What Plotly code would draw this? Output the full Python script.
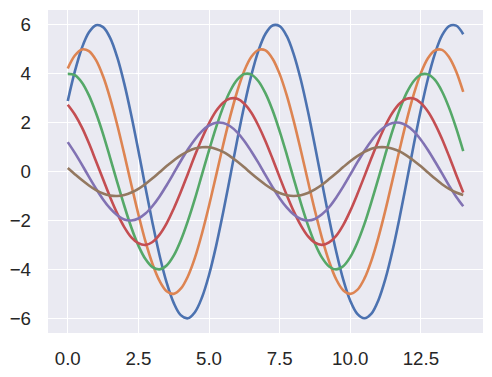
import plotly.graph_objects as go

# x positions (step 0.25 from 0 to 14)
x_values = [0.0, 0.25, 0.5, 0.75, 1.0, 1.25, 1.5, 1.75, 2.0, 2.25, 2.5, 2.75, 3.0, 3.25,
            3.5, 3.75, 4.0, 4.25, 4.5, 4.75, 5.0, 5.25, 5.5, 5.75, 6.0, 6.25, 6.5, 6.75,
            7.0, 7.25, 7.5, 7.75, 8.0, 8.25, 8.5, 8.75, 9.0, 9.25, 9.5, 9.75, 10.0, 10.25,
            10.5, 10.75, 11.0, 11.25, 11.5, 11.75, 12.0, 12.25, 12.5, 12.75, 13.0, 13.25,
            13.5, 13.75, 14.0]

series_1 = [2.88, 4.09, 5.05, 5.69, 5.98, 5.90, 5.46, 4.67, 3.59, 2.29, 0.85, -0.65, -2.10,
            -3.43, -4.54, -5.37, -5.87, -6.00, -5.75, -5.15, -4.23, -3.05, -1.68, -0.20, 1.29,
            2.70, 3.94, 4.94, 5.63, 5.97, 5.94, 5.54, 4.79, 3.75, 2.47, 1.04, -0.45, -1.92,
            -3.26, -4.41, -5.28, -5.82, -6.00, -5.81, -5.25, -4.37, -3.22, -1.87, -0.40, 1.10,
            2.52, 3.79, 4.82, 5.56, 5.94, 5.96, 5.61]
series_2 = [4.21, 4.74, 4.99, 4.92, 4.55, 3.89, 2.99, 1.91, 0.71, -0.54, -1.75, -2.86, -3.78,
            -4.47, -4.89, -5.00, -4.79, -4.29, -3.53, -2.54, -1.40, -0.17, 1.08, 2.25, 3.28,
            4.12, 4.69, 4.97, 4.95, 4.61, 3.99, 3.12, 2.06, 0.87, -0.38, -1.60, -2.72, -3.67,
            -4.40, -4.85, -5.00, -4.84, -4.38, -3.64, -2.68, -1.56, -0.33, 0.91, 2.10, 3.16,
            4.02, 4.63, 4.95, 4.97, 4.67, 4.09, 3.25]
series_3 = [3.99, 3.94, 3.64, 3.11, 2.39, 1.53, 0.56, -0.43, -1.40, -2.29, -3.03, -3.58, -3.91,
            -4.00, -3.84, -3.44, -2.82, -2.03, -1.12, -0.13, 0.86, 1.80, 2.63, 3.29, 3.75,
            3.98, 3.96, 3.69, 3.19, 2.50, 1.65, 0.70, -0.30, -1.28, -2.18, -2.94, -3.52, -3.88,
            -4.00, -3.87, -3.50, -2.91, -2.15, -1.24, -0.27, 0.73, 1.68, 2.53, 3.22, 3.70,
            3.96, 3.97, 3.74, 3.27, 2.60, 1.77, 0.83]
series_4 = [2.73, 2.33, 1.80, 1.15, 0.42, -0.32, -1.05, -1.71, -2.27, -2.69, -2.93, -3.00, -2.88,
            -2.58, -2.12, -1.52, -0.84, -0.10, 0.65, 1.35, 1.97, 2.47, 2.81, 2.98, 2.97,
            2.77, 2.40, 1.87, 1.24, 0.52, -0.23, -0.96, -1.63, -2.20, -2.64, -2.91, -3.00,
            -2.90, -2.63, -2.19, -1.61, -0.93, -0.20, 0.55, 1.26, 1.89, 2.41, 2.78, 2.97,
            2.98, 2.80, 2.45, 1.95, 1.33, 0.62, -0.13, -0.86]
series_5 = [1.20, 0.76, 0.28, -0.22, -0.70, -1.14, -1.51, -1.79, -1.96, -2.00, -1.92, -1.72,
            -1.41, -1.02, -0.56, -0.07, 0.43, 0.90, 1.31, 1.65, 1.88, 1.99, 1.98, 1.85, 1.60,
            1.25, 0.82, 0.35, -0.15, -0.64, -1.09, -1.47, -1.76, -1.94, -2.00, -1.94, -1.75,
            -1.46, -1.07, -0.62, -0.13, 0.37, 0.84, 1.26, 1.61, 1.85, 1.98, 1.99, 1.87, 1.64,
            1.30, 0.88, 0.41, -0.08, -0.58, -1.03, -1.42]
series_6 = [0.14, -0.11, -0.35, -0.57, -0.76, -0.90, -0.98, -1.00, -0.96, -0.86, -0.71, -0.51,
            -0.28, -0.03, 0.22, 0.45, 0.66, 0.82, 0.94, 0.99, 0.99, 0.92, 0.80, 0.62, 0.41,
            0.17, -0.08, -0.32, -0.54, -0.73, -0.88, -0.97, -1.00, -0.97, -0.88, -0.73, -0.54,
            -0.31, -0.07, 0.18, 0.42, 0.63, 0.80, 0.93, 0.99, 0.99, 0.93, 0.82, 0.65, 0.44,
            0.21, -0.04, -0.29, -0.52, -0.71, -0.86, -0.96]

x_ticks = [0.0, 2.5, 5.0, 7.5, 10.0, 12.5]
x_tick_labels = ["0.0", "2.5", "5.0", "7.5", "10.0", "12.5"]
y_ticks = [-6, -4, -2, 0, 2, 4, 6]
y_tick_labels = ["\u22126", "\u22124", "\u22122", "0", "2", "4", "6"]

colors = ["#4C72B0", "#DD8452", "#55A868", "#C44E52", "#8172B3", "#937860"]
all_series = [series_1, series_2, series_3, series_4, series_5, series_6]

fig = go.Figure()
for ys, c in zip(all_series, colors):
    fig.add_trace(go.Scatter(x=x_values, y=ys, mode="lines",
                             line=dict(color=c, width=2.6, shape="spline", smoothing=1.0),
                             showlegend=False, hoverinfo="skip"))

# page body has an 8px default margin, so the figure is sized/offset to compensate
font = dict(family="Liberation Sans, Arial, sans-serif", size=18.7, color="#262626")
fig.update_layout(
    width=484, height=369,
    margin=dict(l=39.5, r=8.5, t=1.5, b=43.5),
    paper_bgcolor="white",
    plot_bgcolor="#EAEAF2",
    font=font,
    showlegend=False,
)
fig.update_xaxes(range=[-0.7, 14.7], tickvals=x_ticks, ticktext=x_tick_labels,
                 showgrid=True, gridcolor="white", gridwidth=1.3, zeroline=False,
                 showline=False, ticks="", ticklabelstandoff=12, tickfont=font,
                 automargin=False)
fig.update_yaxes(range=[-6.6, 6.6], tickvals=y_ticks, ticktext=y_tick_labels,
                 showgrid=True, gridcolor="white", gridwidth=1.3, zeroline=False,
                 showline=False, ticks="", ticklabelstandoff=16, tickfont=font,
                 automargin=False)

fig.write_html("out.html")
